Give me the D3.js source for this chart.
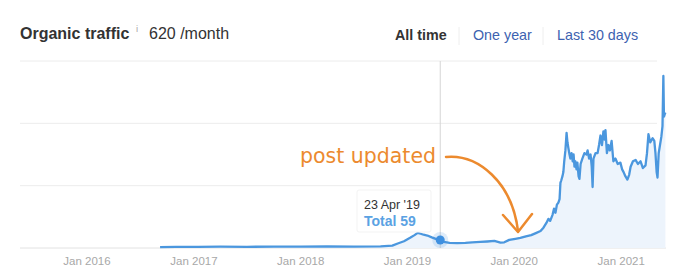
<!DOCTYPE html>
<html><head><meta charset="utf-8">
<script src="https://cdn.jsdelivr.net/npm/d3@7"></script>
<style>
html,body{margin:0;padding:0;background:#fff;}
svg{display:block;}
</style></head>
<body>
<svg id="chart" width="677" height="280"></svg>
<script>
const dates = ["2016-09-07","2016-11-01","2017-01-15","2017-04-01","2017-07-01","2017-10-01","2018-01-01","2018-04-01","2018-07-01","2018-10-01","2018-11-10","2018-12-01","2018-12-20","2019-01-10","2019-01-25","2019-02-05","2019-02-15","2019-02-25","2019-03-10","2019-03-25","2019-04-10","2019-04-23","2019-05-05","2019-05-25","2019-06-20","2019-07-18","2019-08-10","2019-09-07","2019-10-01","2019-10-25","2019-11-15","2019-11-28","2019-12-15","2020-01-05","2020-01-22","2020-02-10","2020-02-28","2020-03-15","2020-03-31","2020-04-10","2020-04-20","2020-04-27","2020-05-03","2020-05-11","2020-05-16","2020-05-21","2020-05-26","2020-05-31","2020-06-04","2020-06-07","2020-06-10","2020-06-14","2020-06-17","2020-06-20","2020-06-24","2020-06-28","2020-07-01","2020-07-04","2020-07-08","2020-07-11","2020-07-15","2020-07-19","2020-07-22","2020-07-25","2020-07-28","2020-08-01","2020-08-04","2020-08-08","2020-08-11","2020-08-15","2020-08-21","2020-08-28","2020-09-04","2020-09-08","2020-09-13","2020-09-18","2020-09-22","2020-09-25","2020-09-28","2020-10-05","2020-10-12","2020-10-17","2020-10-22","2020-10-27","2020-11-01","2020-11-05","2020-11-08","2020-11-13","2020-11-18","2020-11-23","2020-11-29","2020-12-05","2020-12-12","2020-12-20","2020-12-29","2021-01-04","2021-01-09","2021-01-15","2021-01-22","2021-01-28","2021-02-02","2021-02-10","2021-02-19","2021-02-27","2021-03-08","2021-03-16","2021-03-25","2021-03-30","2021-04-04","2021-04-10","2021-04-18","2021-04-24","2021-04-28","2021-05-02","2021-05-05","2021-05-09","2021-05-12","2021-05-18","2021-05-22","2021-05-25","2021-05-27","2021-05-30","2021-06-01"];
const traffic = [6,8,9,10,9,10,10,11,10,12,18,35,50,75,95,112,105,98,92,78,65,59,46,38,36,38,42,45,48,52,40,42,60,68,74,86,95,110,125,150,185,215,200,245,290,260,320,335,360,480,500,530,560,640,720,850,780,740,690,660,700,640,690,600,640,580,630,530,510,620,660,700,690,720,660,690,600,450,660,700,700,760,830,760,860,800,870,700,760,720,790,640,660,620,630,580,560,530,505,540,600,640,650,620,640,590,610,700,840,780,810,790,700,560,520,700,740,820,900,1270,970,990,1000];
const yearTicks = ["2016-01-01","2017-01-01","2018-01-01","2019-01-01","2020-01-01","2021-01-01"];
const gridValues = [460, 920, 1380];
const rangeButtons = ["All time","One year","Last 30 days"];
const hoverDate = "2019-04-23";
const hoverLabel = "23 Apr '19";
const hoverValue = 59;

const parse = d3.timeParse("%Y-%m-%d");
const data = dates.map((d,i)=>({date:parse(d), value:traffic[i]}));
const svg = d3.select("#chart");
const font = "'Liberation Sans', Arial, Helvetica, sans-serif";

const x = d3.scaleTime().domain([parse("2015-05-17"), parse("2021-06-03")]).range([20, 666]);
const y = d3.scaleLinear().domain([0, 1380]).range([248, 61]);

// header
svg.append("text").attr("x",20).attr("y",39).attr("font-family",font).attr("fill","#333")
  .attr("font-weight","bold").attr("font-size","16px").text("Organic traffic");
svg.append("text").attr("x",136).attr("y",32).attr("font-family",font).attr("font-size","9.5px").attr("fill","#aaa").text("i");
svg.append("text").attr("x",149).attr("y",39).attr("font-family",font).attr("font-size","16px").attr("fill","#333").text("620 /month");

const btnX = [395, 473, 557];
rangeButtons.forEach((t,i)=>{
  svg.append("text").attr("x",btnX[i]).attr("y",40).attr("font-family",font)
    .attr("font-size","14.3px").attr("font-weight", i===0?"bold":"normal")
    .attr("fill", i===0?"#333":"#3d62b0").text(t);
});
[459,543].forEach(sx=>svg.append("line").attr("x1",sx).attr("x2",sx).attr("y1",27).attr("y2",45).attr("stroke","#eee"));

// gridlines
svg.append("g").selectAll("line").data(gridValues).join("line")
  .attr("x1",20).attr("x2",657).attr("y1",d=>y(d)).attr("y2",d=>y(d))
  .attr("stroke","#ececec").attr("stroke-width",1);
// baseline
svg.append("line").attr("x1",20).attr("x2",666).attr("y1",y(0)).attr("y2",y(0)).attr("stroke","#e2e2e2");

// area + line
const area = d3.area().x(d=>x(d.date)).y0(y(0)).y1(d=>y(d.value));
svg.append("path").datum(data).attr("d",area).attr("fill","#edf4fc");
const line = d3.line().x(d=>x(d.date)).y(d=>y(d.value));
svg.append("path").datum(data).attr("d",line).attr("fill","none").attr("stroke","#4b97de").attr("stroke-width",2.3).attr("stroke-linejoin","round");

// x axis labels
const fmt = d3.timeFormat("Jan %Y");
svg.append("g").selectAll("text").data(yearTicks.map(parse)).join("text")
  .attr("x",d=>x(d)).attr("y",265).attr("text-anchor","middle")
  .attr("font-family",font).attr("font-size","11.5px").attr("fill","#a8a8a8").text(d=>fmt(d));

// hover line and point
const hx = x(parse(hoverDate));
svg.append("line").attr("x1",hx).attr("x2",hx).attr("y1",61).attr("y2",y(0)).attr("stroke","#d6d6d6");
svg.append("circle").attr("cx",hx).attr("cy",y(hoverValue)).attr("r",8).attr("fill","#4b97de").attr("opacity",0.18);
svg.append("circle").attr("cx",hx).attr("cy",y(hoverValue)).attr("r",4.5).attr("fill","#3f90e0");

// tooltip
svg.append("rect").attr("x",357).attr("y",190).attr("width",74).attr("height",42).attr("rx",2)
  .attr("fill","#fff").attr("fill-opacity",0.85).attr("stroke","#f3f3f3");
svg.append("text").attr("x",364).attr("y",209).attr("font-family",font).attr("font-size","12.5px").attr("fill","#333").text(hoverLabel);
svg.append("text").attr("x",364).attr("y",226).attr("font-family",font).attr("font-size","14px").attr("font-weight","bold").attr("fill","#5aa2e3").text("Total " + hoverValue);

// annotation
const orange = "#ec8a2e";
svg.append("text").attr("x",300).attr("y",163).attr("font-family","'DejaVu Sans', Verdana, sans-serif").attr("font-size","20.5px").attr("fill",orange).text("post updated");
svg.append("path").attr("d","M446,157 C478,154 512,182 518,231").attr("fill","none").attr("stroke",orange).attr("stroke-width",2.5).attr("stroke-linecap","round");
svg.append("path").attr("d","M503,215 L518,232 L532,214").attr("fill","none").attr("stroke",orange).attr("stroke-width",2.5).attr("stroke-linecap","round").attr("stroke-linejoin","round");
</script>
</body></html>
